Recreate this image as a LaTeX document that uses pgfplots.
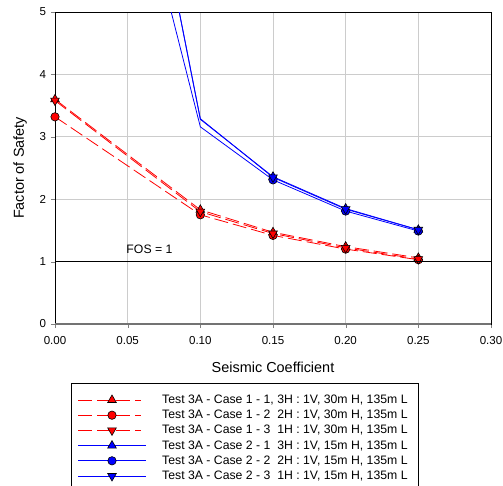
\documentclass[border=0pt]{standalone}
\usepackage{fontspec}
\setmainfont{Liberation Sans}
\usepackage{pgfplots}
\pgfplotsset{compat=1.18}
\pgfdeclareplotmark{dtri*}{\pgftransformrotate{180}\pgfuseplotmark{triangle*}}
\tikzset{
  redline/.style={color=red, line width=0.8bp, dash pattern=on 14bp off 5bp},
  blueline/.style={color=blue, line width=0.8bp},
  rmark/.style={solid, fill=red, draw=black, line width=0.6bp},
  bmark/.style={solid, fill=blue, draw=black, line width=0.6bp},
}
\begin{document}
\begin{tikzpicture}
\useasboundingbox (-55bp,-162bp) rectangle (448bp,324bp);
\begin{axis}[
  scale only axis,
  width=436bp, height=312bp,
  xmin=0, xmax=0.30, ymin=0, ymax=5,
  xtick={0,0.05,0.10,0.15,0.20,0.25,0.30},
  ytick={0,1,2,3,4,5},
  /pgf/number format/assume math mode=true,
  xticklabel={\pgfmathprintnumber[fixed,fixed zerofill,precision=2]{\tick}},
  tick label style={font=\fontsize{11.6}{13}\selectfont},
  x tick label style={yshift=-5bp},
  y tick label style={xshift=-1.5bp},
  scaled x ticks=false,
  tick pos=left, tick align=outside, major tick length=4bp,
  grid=major, major grid style={draw=black!20, line width=0.8bp},
  axis line style={black, line width=0.8bp},
  clip mode=individual,
  xlabel={Seismic Coefficient}, ylabel={Factor of Safety},
  label style={font=\fontsize{14.5}{16}\selectfont},
  xlabel style={at={(axis description cs:0.5,-0.138)}, anchor=center},
  ylabel style={at={(axis description cs:-0.080,0.5)}, anchor=center, rotate=0},
]
\addplot[redline, mark=triangle*, mark size=5bp, mark options={rmark}]
  coordinates {(0,3.60) (0.10,1.83) (0.15,1.47) (0.20,1.24) (0.25,1.06)};
\addplot[redline, mark=*, mark size=4.2bp, mark options={rmark}]
  coordinates {(0,3.32) (0.10,1.75) (0.15,1.42) (0.20,1.20) (0.25,1.03)};
\addplot[redline, mark=dtri*, mark size=5bp, mark options={rmark}]
  coordinates {(0,3.58) (0.10,1.80) (0.15,1.45) (0.20,1.22) (0.25,1.04)};
\addplot[blueline, mark=triangle*, mark size=5bp, mark indices={2,3,4,5}, mark options={bmark}]
  coordinates {(0.05,9.20) (0.10,3.28) (0.15,2.36) (0.20,1.85) (0.25,1.51)};
\addplot[blueline, mark=*, mark size=4.2bp, mark indices={2,3,4,5}, mark options={bmark}]
  coordinates {(0.05,7.75) (0.10,3.16) (0.15,2.31) (0.20,1.81) (0.25,1.49)};
\addplot[blueline, mark=dtri*, mark size=5bp, mark indices={2,3,4,5}, mark options={bmark}]
  coordinates {(0.05,9.20) (0.10,3.29) (0.15,2.35) (0.20,1.84) (0.25,1.51)};
\addplot[black, line width=0.9bp] coordinates {(0,1) (0.30,1)};
\draw[black!55, line width=1.8bp] (rel axis cs:0,0) -- (rel axis cs:1,0);
\node[font=\fontsize{12.3}{13}\selectfont] at (axis cs:0.065,1.19) {FOS = 1};
\end{axis}
% legend: a hidden axis under the main one, its units bp offsets from the main axis origin
\begin{axis}[
  scale only axis, width=436bp, height=175bp, at={(0bp,-175bp)}, anchor=south west,
  xmin=0, xmax=436, ymin=-175, ymax=0,
  hide axis, clip mode=individual,
]
\draw[black, line width=0.8bp, fill=white] (axis cs:16,-59) rectangle (axis cs:363,-180);
% sample lines
\addplot[redline, mark=none] coordinates {(23,-76) (86,-76)};
\addplot[redline, mark=none] coordinates {(23,-91.2) (86,-91.2)};
\addplot[redline, mark=none] coordinates {(23,-106.4) (86,-106.4)};
\addplot[blueline, mark=none] coordinates {(23,-121.6) (91,-121.6)};
\addplot[blueline, mark=none] coordinates {(23,-136.8) (91,-136.8)};
\addplot[blueline, mark=none] coordinates {(23,-152) (91,-152)};
% sample markers
\addplot[only marks, mark=triangle*, mark size=5bp, mark options={rmark}] coordinates {(57,-76)};
\addplot[only marks, mark=*, mark size=4.2bp, mark options={rmark}] coordinates {(57,-91.2)};
\addplot[only marks, mark=dtri*, mark size=5bp, mark options={rmark}] coordinates {(57,-106.4)};
\addplot[only marks, mark=triangle*, mark size=5bp, mark options={bmark}] coordinates {(57,-121.6)};
\addplot[only marks, mark=*, mark size=4.2bp, mark options={bmark}] coordinates {(57,-136.8)};
\addplot[only marks, mark=dtri*, mark size=5bp, mark options={bmark}] coordinates {(57,-152)};
\begin{scope}[every node/.style={anchor=west, font=\fontsize{12.3}{13.6}\selectfont, inner sep=0pt}]
\node at (axis cs:107,-76) {Test 3A - Case 1 - 1, 3H : 1V, 30m H, 135m L};
\node at (axis cs:107,-91.2) {Test 3A - Case 1 - 2\ \ 2H : 1V, 30m H, 135m L};
\node at (axis cs:107,-106.4) {Test 3A - Case 1 - 3\ \ 1H : 1V, 30m H, 135m L};
\node at (axis cs:107,-121.6) {Test 3A - Case 2 - 1\ \ 3H : 1V, 15m H, 135m L};
\node at (axis cs:107,-136.8) {Test 3A - Case 2 - 2\ \ 2H : 1V, 15m H, 135m L};
\node at (axis cs:107,-152) {Test 3A - Case 2 - 3\ \ 1H : 1V, 15m H, 135m L};
\end{scope}
\end{axis}
\end{tikzpicture}
\end{document}
